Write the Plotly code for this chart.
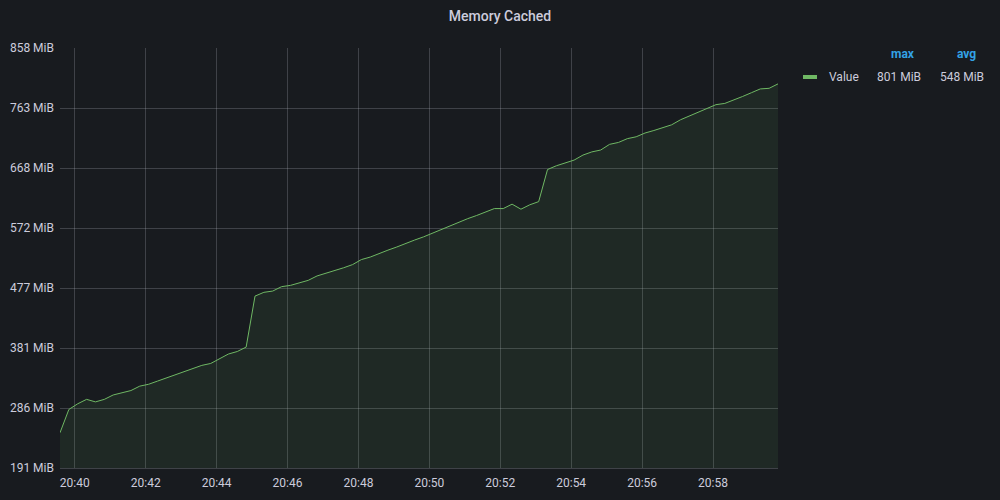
import plotly.graph_objects as go
import pandas as pd

# ---- data ----
start_time = "2023-01-01 20:39:35"
step_seconds = 15
values_mib = [
    247, 284, 293, 300, 296, 300, 307, 310, 314, 321,
    324, 329, 334, 338, 343, 349, 354, 357, 365, 372,
    376, 383, 464, 470, 472, 479, 481, 485, 489, 496,
    500, 505, 509, 514, 522, 526, 532, 537, 542, 548,
    553, 558, 564, 569, 575, 582, 587, 592, 598, 603,
    603, 610, 602, 609, 614, 665, 671, 675, 680, 688,
    693, 696, 705, 708, 714, 717, 723, 727, 732, 736,
    744, 750, 755, 761, 768, 770, 775, 781, 787, 793,
    794, 801,
]
y_min, y_max = 191, 858
y_tick_labels = ["191 MiB", "286 MiB", "381 MiB", "477 MiB",
                 "572 MiB", "668 MiB", "763 MiB", "858 MiB"]
x_tick_labels = ["20:40", "20:42", "20:44", "20:46", "20:48",
                 "20:50", "20:52", "20:54", "20:56", "20:58"]
series_name = "Value"
title_text = "Memory Cached"

times = pd.date_range(start=start_time, periods=len(values_mib), freq=f"{step_seconds}s")
y_tickvals = [y_min + k * (y_max - y_min) / (len(y_tick_labels) - 1) for k in range(len(y_tick_labels))]
x_tickvals = [pd.Timestamp("2023-01-01 " + t) for t in x_tick_labels]

max_val = max(values_mib)
avg_val = sum(values_mib) / len(values_mib)

# ---- style ----
BG = "#181b1f"
TEXT = "#ccccdc"
GRID = "rgba(204,204,220,0.22)"
LINE = "#6fb864"
BLUE = "#33a2e5"
FONT = "Roboto, Inter, sans-serif"

W, H = 1000, 500
L, R, T, B = 60, 222, 48, 32
pw, ph = W - L - R, H - T - B


def px(xp):
    return (xp - L) / pw


def py(yp):
    return (H - B - yp) / ph


fig = go.Figure()
fig.add_trace(go.Scatter(
    x=times, y=values_mib, mode="lines", name=series_name,
    line=dict(color=LINE, width=1),
    fill="tozeroy", fillcolor="rgba(115,191,105,0.09)",
    showlegend=False, hoverinfo="skip",
))

fig.update_layout(
    width=W, height=H,
    paper_bgcolor=BG, plot_bgcolor=BG,
    margin=dict(l=L, r=R, t=T, b=B, pad=0, autoexpand=False),
    font=dict(family=FONT, color=TEXT, size=12),
    title=dict(text=title_text, x=0.5, xref="container", y=1 - 16 / H,
               yref="container", xanchor="center", yanchor="middle",
               font=dict(size=14, color=TEXT, family=FONT, weight=500)),
    xaxis=dict(
        type="date", range=[times[0], times[-1]], automargin=False,
        tickvals=x_tickvals, ticktext=x_tick_labels,
        showgrid=True, gridcolor=GRID, gridwidth=1,
        showline=True, linecolor=GRID, linewidth=1,
        zeroline=False, ticks="", ticklen=0,
        ticklabelstandoff=4,
        tickfont=dict(size=12, color=TEXT),
    ),
    yaxis=dict(
        range=[y_min, y_max], automargin=False,
        tickvals=y_tickvals, ticktext=y_tick_labels,
        showgrid=True, gridcolor=GRID, gridwidth=1,
        showline=False, zeroline=False, ticks="",
        ticklabelstandoff=5,
        tickfont=dict(size=12, color=TEXT),
    ),
)

# ---- custom table legend ----
fig.add_shape(type="line", xref="paper", yref="paper",
              x0=px(803), x1=px(817), y0=py(77), y1=py(77),
              line=dict(color=LINE, width=4))
anns = [
    dict(text="<b>max</b>", x=px(903), y=py(54), xanchor="center", color=BLUE),
    dict(text="<b>avg</b>", x=px(966), y=py(54), xanchor="center", color=BLUE),
    dict(text=series_name, x=px(827), y=py(77), xanchor="left", color=TEXT),
    dict(text=f"{max_val:.0f} MiB", x=px(923), y=py(77), xanchor="right", color=TEXT),
    dict(text=f"{avg_val:.0f} MiB", x=px(986), y=py(77), xanchor="right", color=TEXT),
]
for a in anns:
    fig.add_annotation(text=a["text"], x=a["x"], y=a["y"], xref="paper", yref="paper",
                       xanchor=a["xanchor"], yanchor="middle", showarrow=False,
                       font=dict(size=12, color=a["color"], family=FONT))

fig.write_html("out.html")
